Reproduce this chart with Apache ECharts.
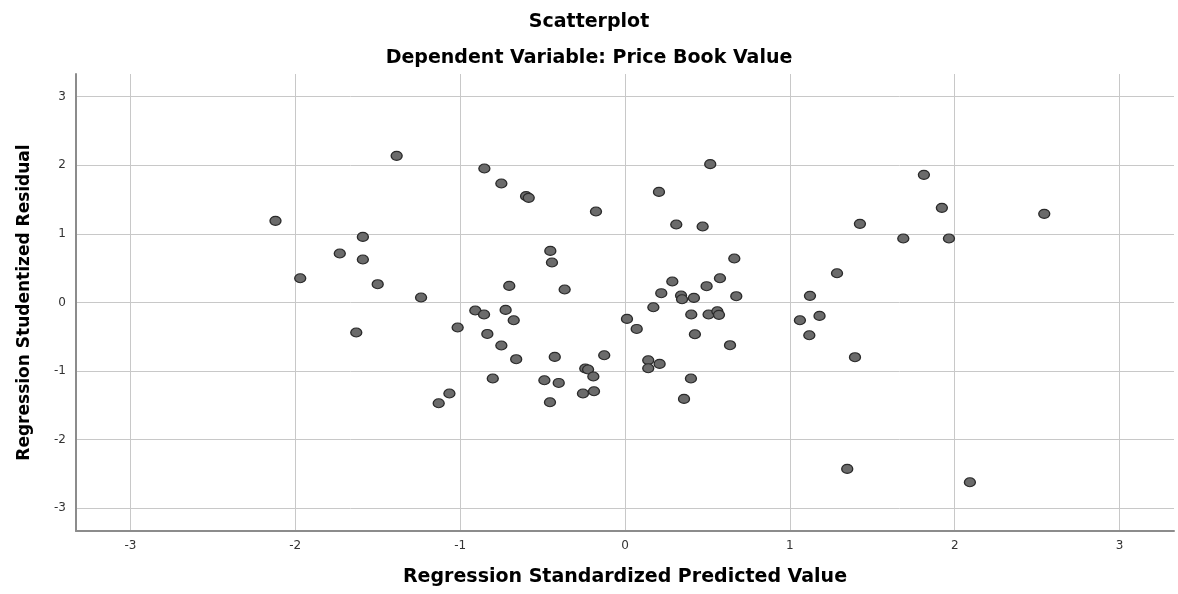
<!DOCTYPE html>
<html>
<head>
<meta charset="utf-8">
<script src="https://cdn.jsdelivr.net/npm/echarts@6/dist/echarts.min.js"></script>
<style>
html,body{margin:0;padding:0;background:#fff;}
#chart{width:1178px;height:594px;}
</style>
</head>
<body>
<div id="chart"></div>
<script>
var titleMain = 'Scatterplot';
var titleSub = 'Dependent Variable: Price Book Value';
var xAxisName = 'Regression Standardized Predicted Value';
var yAxisName = 'Regression Studentized Residual';
var xTicks = [-3, -2, -1, 0, 1, 2, 3];
var yTicks = [-3, -2, -1, 0, 1, 2, 3];

var predicted = [
  -2.12, -1.97, -1.73, -1.59, -1.59, -1.50, -1.63, -1.385, -1.237, -1.015,
  -1.130, -1.065, -0.908, -0.855, -0.835, -0.853, -0.750, -0.750, -0.724, -0.702,
  -0.675, -0.660, -0.802, -0.600, -0.584, -0.453, -0.443, -0.366, -0.426, -0.489,
  -0.402, -0.455, -0.241, -0.224, -0.192, -0.255, -0.188, -0.176, -0.126, 0.012,
  0.071, 0.172, 0.141, 0.141, 0.210, 0.206, 0.220, 0.287, 0.311, 0.340,
  0.346, 0.418, 0.402, 0.424, 0.400, 0.358, 0.471, 0.495, 0.507, 0.517,
  0.560, 0.570, 0.576, 0.637, 0.663, 0.675, 1.061, 1.122, 1.180, 1.118,
  1.286, 1.395, 1.348, 1.425, 1.688, 1.813, 1.922, 1.965, 2.092, 2.543
];
var residual = [
  1.19, 0.354, 0.714, 0.956, 0.627, 0.267, -0.437, 2.137, 0.073, -0.365,
  -1.468, -1.327, -0.117, -0.175, -0.458, 1.953, 1.735, -0.627, -0.108, 0.242,
  -0.258, -0.826, -1.108, 1.55, 1.525, 0.752, 0.583, 0.189, -0.793, -1.133,
  -1.172, -1.453, -0.962, -0.977, -1.079, -1.327, -1.293, 1.327, -0.768, -0.239,
  -0.385, -0.069, -0.841, -0.958, -0.895, 1.612, 0.136, 0.306, 1.137, 0.102,
  0.048, 0.067, -0.175, -0.462, -1.108, -1.405, 1.108, 0.238, -0.175, 2.016,
  -0.127, -0.180, 0.354, -0.622, 0.641, 0.092, -0.258, 0.097, -0.195, -0.477,
  0.427, -0.797, -2.425, 1.146, 0.933, 1.86, 1.379, 0.933, -2.62, 1.292
];

var points = predicted.map(function (v, i) { return [v, residual[i]]; });

var chart = echarts.init(document.getElementById('chart'), null, {renderer: 'canvas'});
var boldFont = 'DejaVu Sans, Verdana, sans-serif';
var tickFont = 'DejaVu Sans, Arial, sans-serif';
chart.setOption({
  animation: false,
  backgroundColor: '#ffffff',
  title: [
    {text: titleMain, left: 'center', top: 8,
     textStyle: {fontFamily: boldFont, fontSize: 19, fontWeight: 'bold', color: '#000'}},
    {text: titleSub, left: 'center', top: 44,
     textStyle: {fontFamily: boldFont, fontSize: 19, fontWeight: 'bold', color: '#000'}}
  ],
  grid: {left: 76, right: 4, top: 74, bottom: 63, containLabel: false},
  xAxis: {
    type: 'value', min: -3.33, max: 3.33,
    name: xAxisName, nameLocation: 'middle', nameGap: 37,
    nameTextStyle: {fontFamily: boldFont, fontSize: 19, fontWeight: 'bold', color: '#000'},
    axisLine: {show: true, onZero: false, lineStyle: {color: '#8c8c8c', width: 2}},
    axisTick: {show: false, customValues: xTicks},
    axisLabel: {customValues: xTicks, margin: 9, fontFamily: tickFont, fontSize: 12, color: '#333'},
    splitLine: {show: true, lineStyle: {color: '#c8c8c8', width: 1}}
  },
  yAxis: {
    type: 'value', min: -3.33, max: 3.33,
    name: yAxisName, nameLocation: 'middle', nameGap: 43,
    nameTextStyle: {fontFamily: boldFont, fontSize: 17, fontWeight: 'bold', color: '#000'},
    axisLine: {show: true, onZero: false, lineStyle: {color: '#8c8c8c', width: 2}},
    axisTick: {show: false, customValues: yTicks},
    axisLabel: {customValues: yTicks, margin: 10, fontFamily: tickFont, fontSize: 12, color: '#333'},
    splitLine: {show: true, lineStyle: {color: '#c8c8c8', width: 1}}
  },
  series: [{
    type: 'scatter',
    data: points,
    symbol: 'circle',
    symbolSize: [11, 9],
    itemStyle: {color: '#6b6b6b', borderColor: '#2a2a2a', borderWidth: 1.2, opacity: 1}
  }]
});
</script>
</body>
</html>
